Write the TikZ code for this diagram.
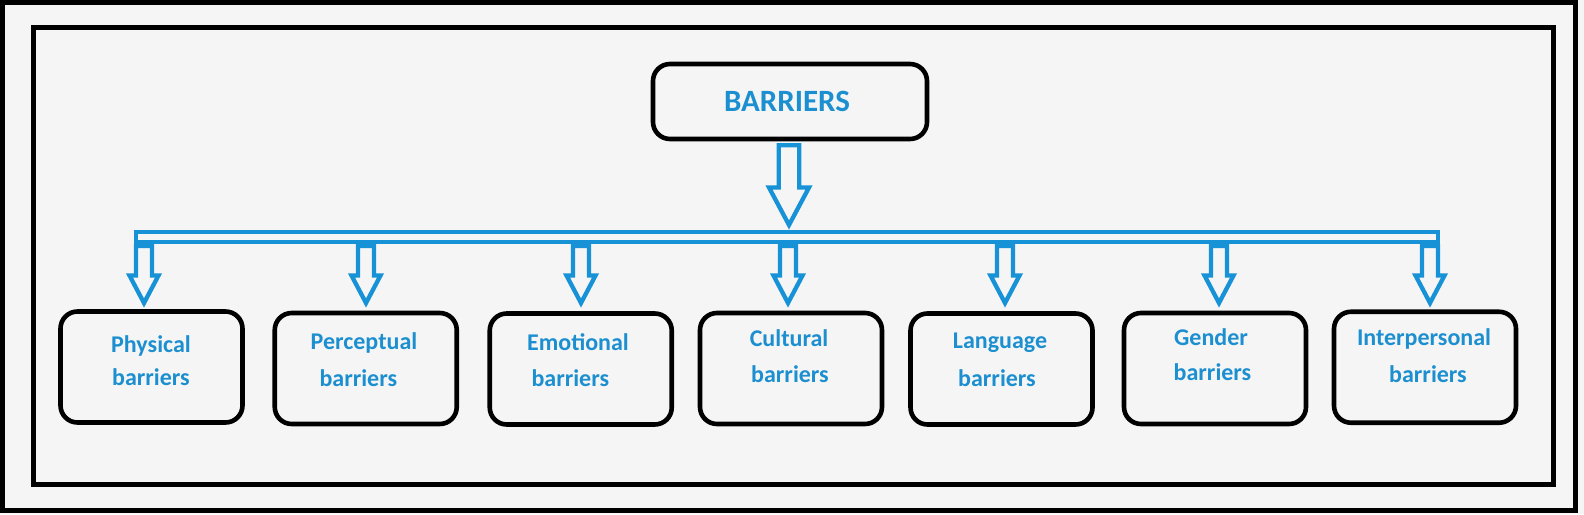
\documentclass[tikz,border=0pt]{standalone}
\usepackage{fontspec}
\setmainfont{Carlito}
\definecolor{bblue}{RGB}{24,146,214}
\definecolor{tblue}{RGB}{28,143,208}
\definecolor{bgc}{RGB}{246,245,245}
\newcommand\smallarrow[2]{% #1 = x of tip, #2 = name of tip coordinate
  \coordinate (#2) at (#1,303);
  \draw[blk] (#1-8,246) -- (#1-8,275.5) -- (#1-14.5,275.5) -- (#2) -- (#1+14.5,275.5) -- (#1+8,275.5) -- (#1+8,246) -- cycle;
  \fill[bblue] (#1-10.15,241.7) rectangle (#1+10.15,246);}
\begin{document}
\begin{tikzpicture}[x=1pt,y=-1pt,
  frame/.style={draw=black,line width=5pt},
  box/.style={draw=black,line width=4.6pt,rounded corners=17pt,minimum width=182pt,minimum height=111pt,inner sep=0pt},
  blk/.style={draw=bblue,line width=4.3pt,line join=miter},
  lbl/.style={text=tblue,font=\fontsize{24}{28}\selectfont\bfseries,anchor=base,inner sep=0pt}]
\fill[bgc] (0,0) rectangle (1584,514);
\useasboundingbox (0,0) rectangle (1584,514);
\draw[frame] (2.5,2.5) rectangle (1575.5,510.5);
\draw[frame] (33.5,27.5) rectangle (1553,484.5);
% top box
\node[box,minimum width=274pt,minimum height=75pt] (top) at (790,101.5) {};
\node[lbl,font=\fontsize{31}{36}\selectfont\bfseries] (ttl) at (787,111) {BARRIERS};
% big arrow
\coordinate (bigtip) at (789,225);
\draw[blk] (789-10.3,145.3) -- (789-10.3,187.5) -- (789-20,187.5) -- (bigtip) -- (789+20,187.5) -- (789+10.3,187.5) -- (789+10.3,145.3) -- cycle;
% bar
\draw[blk] (136,231.7) rectangle (1438,241.7);
% small arrows
\smallarrow{144}{a1}
\smallarrow{366}{a2}
\smallarrow{581}{a3}
\smallarrow{788}{a4}
\smallarrow{1005}{a5}
\smallarrow{1219}{a6}
\smallarrow{1430}{a7}
% boxes
\node[box] (b1) at (151.5,367) {};
\node[box] (b2) at (365.75,368.5) {};
\node[box] (b3) at (580.75,369) {};
\node[box] (b4) at (791,368.5) {};
\node[box] (b5) at (1001.5,369) {};
\node[box] (b6) at (1215,368.5) {};
\node[box] (b7) at (1425,367.25) {};
% labels
\node[lbl] (l1a) at (151,352.7) {Physical};
\node[lbl] (l1b) at (151,385) {barriers};
\node[lbl] (l2a) at (364,349) {Perceptual};
\node[lbl] (l2b) at (358.3,386) {barriers};
\node[lbl] (l3a) at (578,350) {Emotional};
\node[lbl] (l3b) at (570.3,386) {barriers};
\node[lbl] (l4a) at (789,346) {Cultural};
\node[lbl] (l4b) at (790,382.3) {barriers};
\node[lbl] (l5a) at (1000,348.3) {Language};
\node[lbl] (l5b) at (997,386.7) {barriers};
\node[lbl] (l6a) at (1211,345) {Gender};
\node[lbl] (l6b) at (1212.5,380.7) {barriers};
\node[lbl] (l7a) at (1424,345) {Interpersonal};
\node[lbl] (l7b) at (1428,382.3) {barriers};
\end{tikzpicture}
\end{document}
